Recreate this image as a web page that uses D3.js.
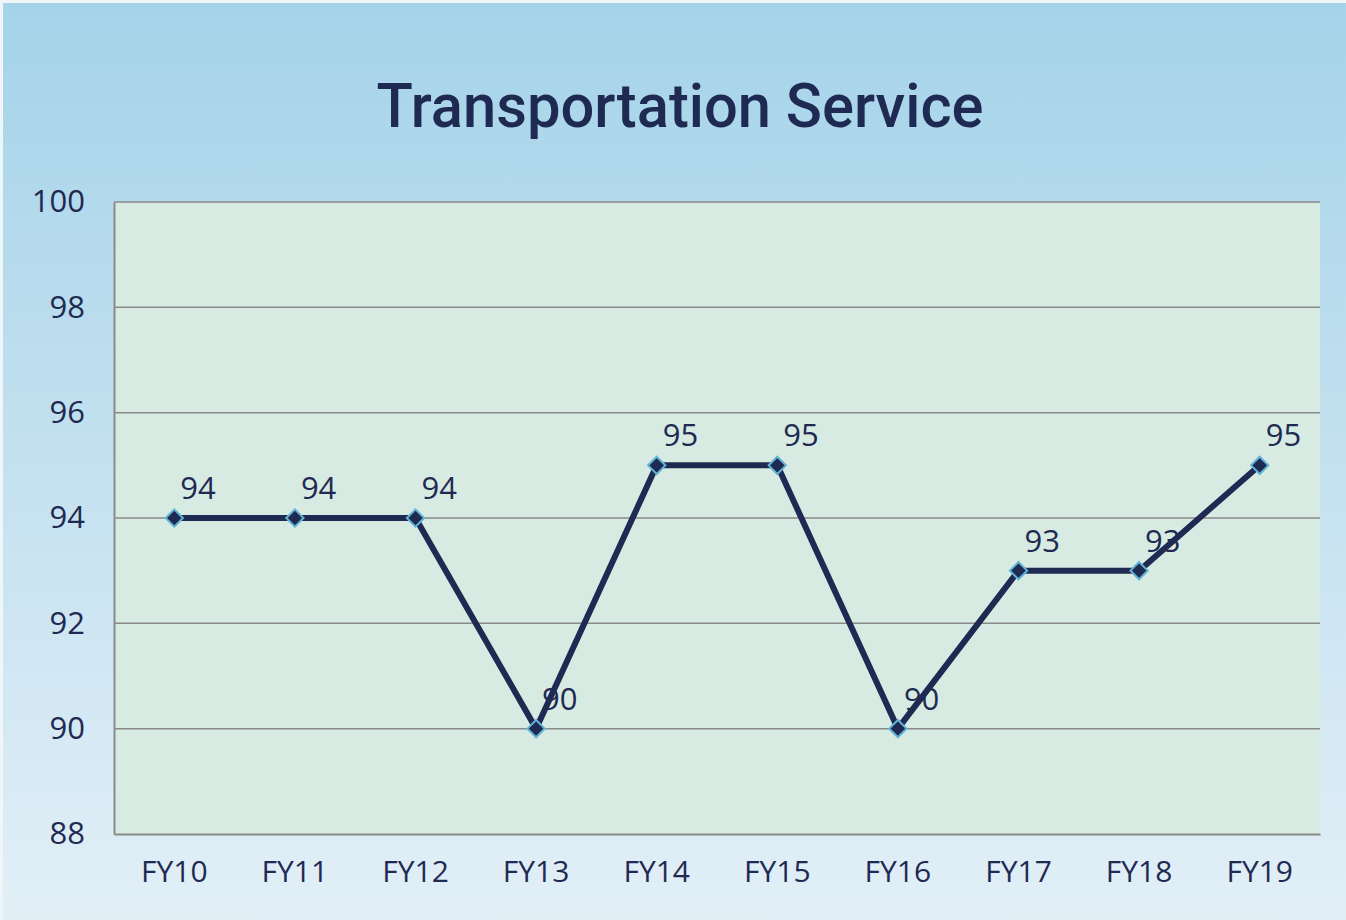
<!DOCTYPE html>
<html>
<head>
<meta charset="utf-8">
<script src="https://d3js.org/d3.v7.min.js"></script>
<style>
  body { margin: 0; }
  svg text { fill: #1f2a52; }
</style>
</head>
<body>
<svg id="chart" width="1346" height="920"></svg>
<script>
// chart data
const years = ["FY10","FY11","FY12","FY13","FY14","FY15","FY16","FY17","FY18","FY19"];
const scores = [94, 94, 94, 90, 95, 95, 90, 93, 93, 95];
const yTicks = [88, 90, 92, 94, 96, 98, 100];

const W = 1346, H = 920;
const plot = {left: 114, right: 1320, top: 202, bottom: 834};
const navy = "#1f2a52";
const font = "'Open Sans', sans-serif";

const svg = d3.select("#chart");

// background gradient
const defs = svg.append("defs");
const grad = defs.append("linearGradient").attr("id", "bg")
  .attr("x1", 0).attr("y1", 0).attr("x2", 0).attr("y2", 1);
grad.append("stop").attr("offset", "0%").attr("stop-color", "#a5d3e9");
grad.append("stop").attr("offset", "100%").attr("stop-color", "#e2eff7");

svg.append("rect").attr("x", 0).attr("y", 0).attr("width", W).attr("height", H)
  .attr("fill", "#eef6fa");
svg.append("rect").attr("x", 3).attr("y", 3).attr("width", W - 3).attr("height", H - 3)
  .attr("fill", "url(#bg)");

// scales
const x = d3.scaleBand().domain(years).range([plot.left, plot.right]);
const y = d3.scaleLinear().domain([88, 100]).range([plot.bottom, plot.top]);
const cx = d => x(d) + x.bandwidth() / 2;

// plot area
svg.append("rect")
  .attr("x", plot.left).attr("y", plot.top)
  .attr("width", plot.right - plot.left).attr("height", plot.bottom - plot.top)
  .attr("fill", "#d7ebe2");

// gridlines
svg.append("g")
  .selectAll("line")
  .data(yTicks.filter(t => t !== 88))
  .join("line")
  .attr("x1", plot.left).attr("x2", plot.right)
  .attr("y1", d => y(d)).attr("y2", d => y(d))
  .attr("stroke", "#8a8a8a").attr("stroke-width", 1.5);

// y axis
const yAxis = svg.append("g")
  .attr("transform", "translate(" + plot.left + ",0)")
  .call(d3.axisLeft(y).tickValues(yTicks).tickSize(0).tickPadding(29));
yAxis.select(".domain").attr("stroke", "#8a8a8a").attr("stroke-width", 2);
yAxis.selectAll("text")
  .attr("font-family", font)
  .attr("font-size", 31).attr("fill", navy);

// x axis
const xAxis = svg.append("g")
  .attr("transform", "translate(0," + plot.bottom + ")")
  .call(d3.axisBottom(x).tickSize(0).tickPadding(27));
xAxis.select(".domain").attr("stroke", "#8a8a8a").attr("stroke-width", 2);
xAxis.selectAll("text")
  .attr("font-family", font)
  .attr("font-size", 30).attr("fill", navy);

// title
svg.append("text")
  .attr("x", 680).attr("y", 127)
  .attr("text-anchor", "middle")
  .attr("font-family", "Roboto, sans-serif")
  .attr("font-weight", 500)
  .attr("font-size", 62)
  .attr("textLength", 607)
  .attr("lengthAdjust", "spacingAndGlyphs")
  .attr("fill", navy)
  .text("Transportation Service");

// line
const pts = years.map((yr, i) => ({yr: yr, v: scores[i]}));
svg.append("path")
  .datum(pts)
  .attr("fill", "none")
  .attr("stroke", navy)
  .attr("stroke-width", 6)
  .attr("stroke-linejoin", "round")
  .attr("d", d3.line().x(d => cx(d.yr)).y(d => y(d.v)));

// markers
svg.append("g")
  .selectAll("path")
  .data(pts)
  .join("path")
  .attr("transform", d => "translate(" + cx(d.yr) + "," + y(d.v) + ")")
  .attr("d", d3.symbol().type(d3.symbolDiamond2).size(190))
  .attr("fill", navy)
  .attr("stroke", "#62b3d6")
  .attr("stroke-width", 2);

// value labels
svg.append("g")
  .selectAll("text")
  .data(pts)
  .join("text")
  .attr("x", d => cx(d.yr) + 6)
  .attr("y", d => y(d.v) - 19)
  .attr("font-family", font)
  .attr("font-weight", 500)
  .attr("font-size", 31)
  .attr("fill", navy)
  .text(d => d.v);
</script>
</body>
</html>
